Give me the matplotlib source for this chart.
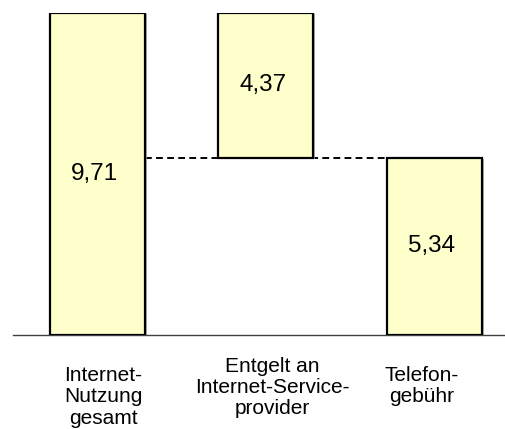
#! /usr/bin/env python3
"""
Waterfall chart: Internet-Nutzung gesamt split into two cost parts
"""

import matplotlib
matplotlib.use("Agg")
import matplotlib.pyplot as plt
import matplotlib.patheffects as pe

categories = [
    "Internet-\nNutzung\ngesamt",
    "Entgelt an\nInternet-Service-\nprovider",
    "Telefon-\ngebühr",
]
heights = [9.71, 4.37, 5.34]
bottoms = [0.0, 5.34, 0.0]
value_labels = ["9,71", "4,37", "5,34"]


def main():
    plt.rcParams["font.family"] = ["Liberation Sans", "DejaVu Sans"]
    fig = plt.figure(figsize=(5.06, 4.29), dpi=100)
    # pixel layout of the reference: baseline at y=335, top of total at 12.5
    px_w, px_h = 506, 429
    base_px, top_px, left_px = 335, 12.5, 13
    ax = fig.add_axes([
        left_px / px_w,
        (px_h - base_px) / px_h,
        (px_w - left_px) / px_w,
        (base_px - top_px) / px_h,
    ])
    step_px = 168.5
    first_px = 97.5
    ax.set_xlim(
        (left_px - first_px) / step_px,
        (px_w - first_px) / step_px,
    )
    ax.set_ylim(0, heights[0])
    positions = list(range(len(categories)))
    width = 95 / step_px
    bars = ax.bar(
        positions,
        heights,
        bottom=bottoms,
        width=width,
        color="#ffffcc",
        edgecolor="black",
        linewidth=1.6,
        zorder=3,
    )
    for bar in bars:
        bar.set_path_effects([
            pe.SimplePatchShadow(offset=(1.2, -1.2), shadow_rgbFace="#999999",
                                 alpha=0.8),
            pe.Normal(),
        ])
    # dashed connector at the level of the Telefongebühr
    ax.hlines(
        y=heights[2],
        xmin=positions[0] + width / 2,
        xmax=positions[2] - width / 2,
        colors="black",
        linestyles=(0, (3.5, 2.2)),
        linewidth=1.4,
        zorder=2,
    )
    for x, h, b, lab in zip(positions, heights, bottoms, value_labels):
        ax.text(x - 0.02, b + h / 2, lab, ha="center", va="center",
                fontsize=17.5, zorder=4)
    label_shift = [0.033, 0.036, -0.074]
    label_drop = [31, 22, 31]
    for x, s, d, lab in zip(positions, label_shift, label_drop, categories):
        ax.text(x + s, -d / (base_px - top_px), lab,
                transform=ax.get_xaxis_transform(),
                ha="center", va="top", fontsize=15, linespacing=1.15,
                multialignment="center", clip_on=False)
    for side in ["top", "right", "left"]:
        ax.spines[side].set_visible(False)
    ax.spines["bottom"].set_color("#404040")
    ax.spines["bottom"].set_linewidth(1.0)
    ax.set_xticks([])
    ax.set_yticks([])
    ax.patch.set_alpha(0)
    fig.savefig("out.png", dpi=100)


if __name__ == "__main__":
    main()
